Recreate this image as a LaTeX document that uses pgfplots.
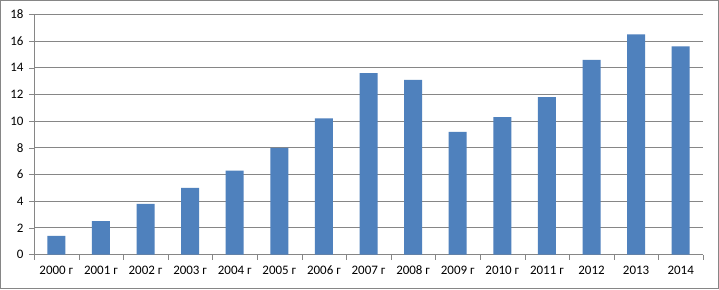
\documentclass[border=0pt]{standalone}
\usepackage{pgfplots}
\pgfplotsset{compat=1.18}
\usepackage{fontspec}
\setmainfont{Carlito}
\definecolor{barblue}{HTML}{4F81BD}
\definecolor{axgray}{HTML}{868686}
\begin{document}
\begin{tikzpicture}[x=1bp,y=1bp]
\useasboundingbox (0,0) rectangle (719,289);
\fill[white] (0,0) rectangle (719,289);
\draw[color=axgray, line width=1bp] (0.5,0.5) rectangle (718.5,288.5);
\begin{axis}[
  at={(34bp,34.5bp)}, anchor=south west,
  scale only axis, width=669bp, height=240bp,
  font=\fontsize{13}{15}\selectfont,
  /pgf/number format/assume math mode=true,
  ybar, bar width=18bp,
  ymin=0, ymax=18, ytick={0,2,...,18},
  xmin=-0.5, xmax=14.5,
  xtick={-0.5,0.5,...,14.5},
  xticklabels={},
  extra x ticks={0,...,14},
  extra x tick labels={2000 г,2001 г,2002 г,2003 г,2004 г,2005 г,2006 г,2007 г,2008 г,2009 г,2010 г,2011 г,2012,2013,2014},
  extra x tick style={tick style={draw=none}},
  tick style={draw=axgray},
  tick align=outside, major tick length=5bp,
  axis x line*=bottom, axis y line*=left,
  axis line style={draw=axgray, line width=0.8bp},
  ymajorgrids, grid style={draw=axgray, line width=0.8bp},
  yticklabel style={xshift=-2bp},
  xticklabel style={yshift=-3bp},
]
\addplot[fill=barblue, draw=none] coordinates {
(0,1.4) (1,2.5) (2,3.8) (3,5.0) (4,6.3) (5,8.0) (6,10.2) (7,13.6) (8,13.1) (9,9.2) (10,10.3) (11,11.8) (12,14.6) (13,16.5) (14,15.6)};
\end{axis}
\end{tikzpicture}
\end{document}
